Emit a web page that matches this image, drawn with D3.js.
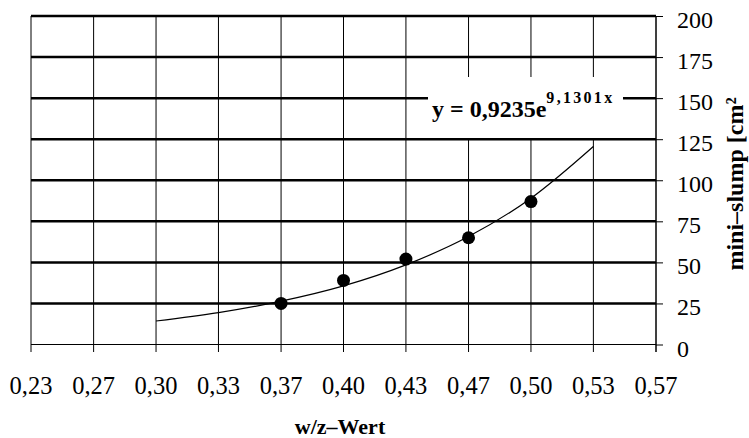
<!DOCTYPE html>
<html>
<head>
<meta charset="utf-8">
<script src="https://cdn.jsdelivr.net/npm/d3@7"></script>
<style>
  body { margin: 0; background: #fff; }
  svg { display: block; }
</style>
</head>
<body>
<div id="chart"></div>
<script>
// x ticks (w/z) and their labels
const xTickValues = [0.2333, 0.2667, 0.3, 0.3333, 0.3667, 0.4, 0.4333, 0.4667, 0.5, 0.5333, 0.5667];
const xTickLabels = ['0,23', '0,27', '0,30', '0,33', '0,37', '0,40', '0,43', '0,47', '0,50', '0,53', '0,57'];
const yTickValues = [0, 25, 50, 75, 100, 125, 150, 175, 200];

// measured points
const wzValues = [0.3667, 0.4, 0.4333, 0.4667, 0.5];
const slumpValues = [25, 39, 52, 65, 87];

// trend line
const trendX = [0.3, 0.3333, 0.3667, 0.4, 0.4333, 0.4667, 0.5, 0.5333];
const trendY = [14.3, 19.4, 26.4, 35.7, 48.5, 65.7, 89.1, 120.6];

const w = 749;
const h = 438;
const serif = "'Liberation Serif', 'Times New Roman', serif";

const xScale = d3.scaleLinear()
                 .domain([xTickValues[0], xTickValues[xTickValues.length - 1]])
                 .range([31, 656]);

const yScale = d3.scaleLinear()
                 .domain([0, 200])
                 .range([344.5, 16]);

const svg = d3.select('#chart')
              .append('svg')
              .attr('width', w)
              .attr('height', h)
              .attr('font-family', serif);

//vertical grid lines (also the x ticks)
svg.append('g')
   .selectAll('line')
   .data(xTickValues)
   .enter()
   .append('line')
   .attr('x1', d => xScale(d))
   .attr('x2', d => xScale(d))
   .attr('y1', yScale(200))
   .attr('y2', yScale(0) + 7.5)
   .attr('stroke', '#000')
   .attr('stroke-width', 1);

//horizontal grid lines
svg.append('g')
   .selectAll('line')
   .data(yTickValues.filter(d => d > 0))
   .enter()
   .append('line')
   .attr('x1', xScale.range()[0])
   .attr('x2', xScale.range()[1])
   .attr('y1', d => yScale(d))
   .attr('y2', d => yScale(d))
   .attr('stroke', '#000')
   .attr('stroke-width', 2.5);

//x axis baseline
svg.append('line')
   .attr('x1', xScale.range()[0])
   .attr('x2', xScale.range()[1])
   .attr('y1', yScale(0))
   .attr('y2', yScale(0))
   .attr('stroke', '#000')
   .attr('stroke-width', 1);

//right axis
const yAxis = d3.axisRight(yScale)
                .tickValues(yTickValues)
                .tickSize(7)
                .tickFormat(d => d);

const yAxisG = svg.append('g')
   .attr('transform', `translate(${xScale.range()[1]}, 0)`)
   .call(yAxis)
   .attr('font-family', serif)
   .attr('font-size', 24);

yAxisG.select('.domain')
      .attr('d', `M0,${yScale(200)}V${yScale(0) + 7.5}`)
      .attr('stroke', '#000');
yAxisG.selectAll('.tick line').attr('stroke', '#000');
yAxisG.selectAll('.tick text')
      .attr('x', 21)
      .attr('dy', 11.5)
      .attr('fill', '#000');

//x tick labels
svg.append('g')
   .selectAll('text')
   .data(xTickValues)
   .enter()
   .append('text')
   .attr('x', d => xScale(d))
   .attr('y', 394)
   .attr('text-anchor', 'middle')
   .attr('font-size', 24.5)
   .text((d, i) => xTickLabels[i]);

//equation label
svg.append('rect')
   .attr('x', 428)
   .attr('y', 77)
   .attr('width', 195)
   .attr('height', 61)
   .attr('fill', '#fff');

const eq = svg.append('text')
   .attr('x', 432)
   .attr('y', 116.5)
   .attr('font-weight', 'bold')
   .attr('font-size', 24);
eq.append('tspan').text('y = 0,9235e');
eq.append('tspan')
  .attr('dy', -13.5)
  .attr('font-size', 16)
  .attr('letter-spacing', 2.3)
  .text('9,1301x');

//trend line
const line = d3.line()
               .x(d => xScale(d[0]))
               .y(d => yScale(d[1]))
               .curve(d3.curveMonotoneX);

svg.append('path')
   .datum(trendX.map((x, i) => [x, trendY[i]]))
   .attr('d', line)
   .attr('fill', 'none')
   .attr('stroke', '#000')
   .attr('stroke-width', 1.2);

//points
svg.append('g')
   .selectAll('circle')
   .data(wzValues)
   .enter()
   .append('circle')
   .attr('cx', d => xScale(d))
   .attr('cy', (d, i) => yScale(slumpValues[i]))
   .attr('r', 6.5)
   .attr('fill', '#000');

//axis titles
svg.append('text')
   .attr('x', 340)
   .attr('y', 434)
   .attr('text-anchor', 'middle')
   .attr('font-weight', 'bold')
   .attr('font-size', 22)
   .text('w/z–Wert');

svg.append('text')
   .attr('transform', 'translate(743, 184) rotate(-90)')
   .attr('text-anchor', 'middle')
   .attr('font-weight', 'bold')
   .attr('font-size', 24)
   .text('mini–slump [cm²');
</script>
</body>
</html>
